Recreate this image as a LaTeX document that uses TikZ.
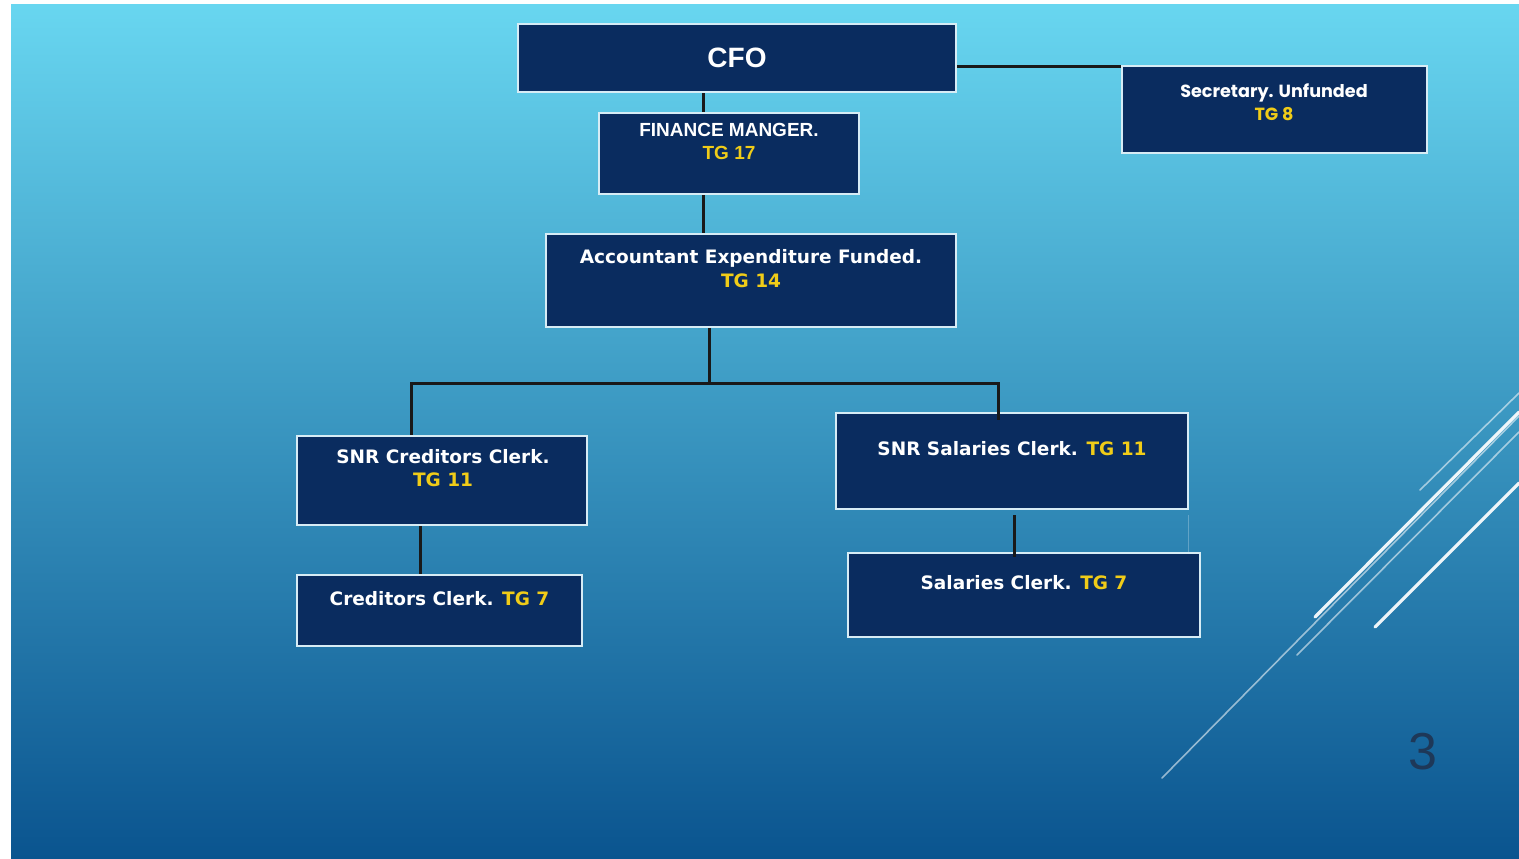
\documentclass[tikz,border=0pt]{standalone}
\usepackage{fontspec}
\setmainfont{Liberation Sans}
\newfontfamily\dvs{DejaVu Sans}
\newfontfamily\pop{Poppins}
\definecolor{bgtop}{RGB}{104,214,240}
\definecolor{bgmid}{RGB}{58,160,204}
\definecolor{bgbot}{RGB}{10,84,143}
\definecolor{navy}{RGB}{10,44,95}
\definecolor{rim}{RGB}{215,236,245}
\definecolor{tgy}{RGB}{240,204,24}
\definecolor{pnum}{RGB}{30,56,88}
\tikzset{
  box/.style={draw=rim, line width=2.8pt, fill=navy, inner sep=0pt},
  conn/.style={draw=black!90, line width=3pt},
  lbl/.style={text=white, align=center, inner sep=0pt},
  deco thin/.style={draw=white, opacity=0.55, line width=1.6pt, line cap=round},
  deco thick/.style={draw=white, opacity=0.92, line width=3.2pt, line cap=round}
}
\begin{document}
\begin{tikzpicture}[x=1pt,y=-1pt]
\useasboundingbox (0,0) rectangle (1519,859);
\fill[white] (0,0) rectangle (1519,859);
\shade[top color=bgtop, middle color=bgmid, bottom color=bgbot] (11,5) rectangle (1519,859);
% decorative lines
\draw[deco thin] (1420,490) -- (1519,393);
\draw[deco thin] (1162,778) -- (1519,416);
\draw[deco thin] (1297,655) -- (1519,432);
\draw[deco thick] (1315,617) -- (1519,412);
\draw[deco thick] (1375,627) -- (1519,483);
\draw[white, opacity=0.25, line width=1pt] (1188,515) -- (1188,585);
% page number
\node[text=pnum, font=\fontsize{52}{52}\selectfont, inner sep=0pt] (pg) at (1423,752) {3};
% boxes
\node[box, minimum width=438pt, minimum height=68pt] (cfo) at (737,58) {};
\node[box, minimum width=260pt, minimum height=81pt] (fm) at (729,153.5) {};
\node[box, minimum width=305pt, minimum height=87pt] (sec) at (1274.5,109.5) {};
\node[box, minimum width=410pt, minimum height=93pt] (acc) at (751,280.5) {};
\node[box, minimum width=290pt, minimum height=89pt] (snrc) at (442,480.5) {};
\node[box, minimum width=285pt, minimum height=71pt] (cc) at (439.5,610.5) {};
\node[box, minimum width=352pt, minimum height=96pt] (snrs) at (1012,461) {};
\node[box, minimum width=352pt, minimum height=84pt] (sc) at (1024,595) {};
% connectors
\coordinate (bus) at (709,383);
\draw[conn] ([xshift=-26pt]fm.north) -- ([xshift=-26pt]fm.north |- cfo.south);
\draw[conn] ([yshift=-9pt]cfo.east) -- ([yshift=-9pt]cfo.east -| sec.west);
\draw[conn] ([xshift=-26pt]fm.south) -- ([xshift=-26pt]fm.south |- acc.north);
\draw[conn] ([xshift=-42pt]acc.south) -- (bus);
\draw[conn] ([xshift=-31pt]snrc.north) |- (bus) -| ([xshift=-14pt,yshift=-8pt]snrs.north);
\draw[conn] ([xshift=-22pt]snrc.south) -- ([xshift=-22pt]snrc.south |- cc.north);
\draw[conn] ([xshift=2pt,yshift=-5pt]snrs.south) -- ([xshift=2pt,yshift=-5pt]snrs.south |- sc.north);
% labels
\node[lbl, font=\bfseries\fontsize{28}{30}\selectfont] (tcfo) at (737,58) {CFO};
\node[lbl, anchor=north, font=\bfseries\fontsize{19}{23.5}\selectfont] (tfm) at (729,123) {FINANCE MANGER.\\\textcolor{tgy}{TG 17}};
\node[lbl, anchor=north, font=\pop\bfseries\fontsize{17.6}{23}\selectfont] (tsec) at (1274,84) {Secretary. Unfunded\\\textcolor{tgy}{TG 8}};
\node[lbl, anchor=north, font=\dvs\bfseries\fontsize{18.5}{24}\selectfont] (tacc) at (751,249) {Accountant Expenditure Funded.\\\textcolor{tgy}{TG 14}};
\node[lbl, anchor=north, font=\dvs\bfseries\fontsize{18.5}{23}\selectfont] (tsnrc) at (443,449) {SNR Creditors Clerk.\\\textcolor{tgy}{TG 11}};
\node[lbl, anchor=north, font=\dvs\bfseries\fontsize{18.5}{23}\selectfont] (tcc) at (439.5,591) {Creditors Clerk. \textcolor{tgy}{TG 7}};
\node[lbl, anchor=north, font=\dvs\bfseries\fontsize{18.5}{23}\selectfont] (tsnrs) at (1012,441) {SNR Salaries Clerk. \textcolor{tgy}{TG 11}};
\node[lbl, anchor=north, font=\dvs\bfseries\fontsize{18.5}{23}\selectfont] (tsc) at (1024,575) {Salaries Clerk. \textcolor{tgy}{TG 7}};
\end{tikzpicture}
\end{document}
